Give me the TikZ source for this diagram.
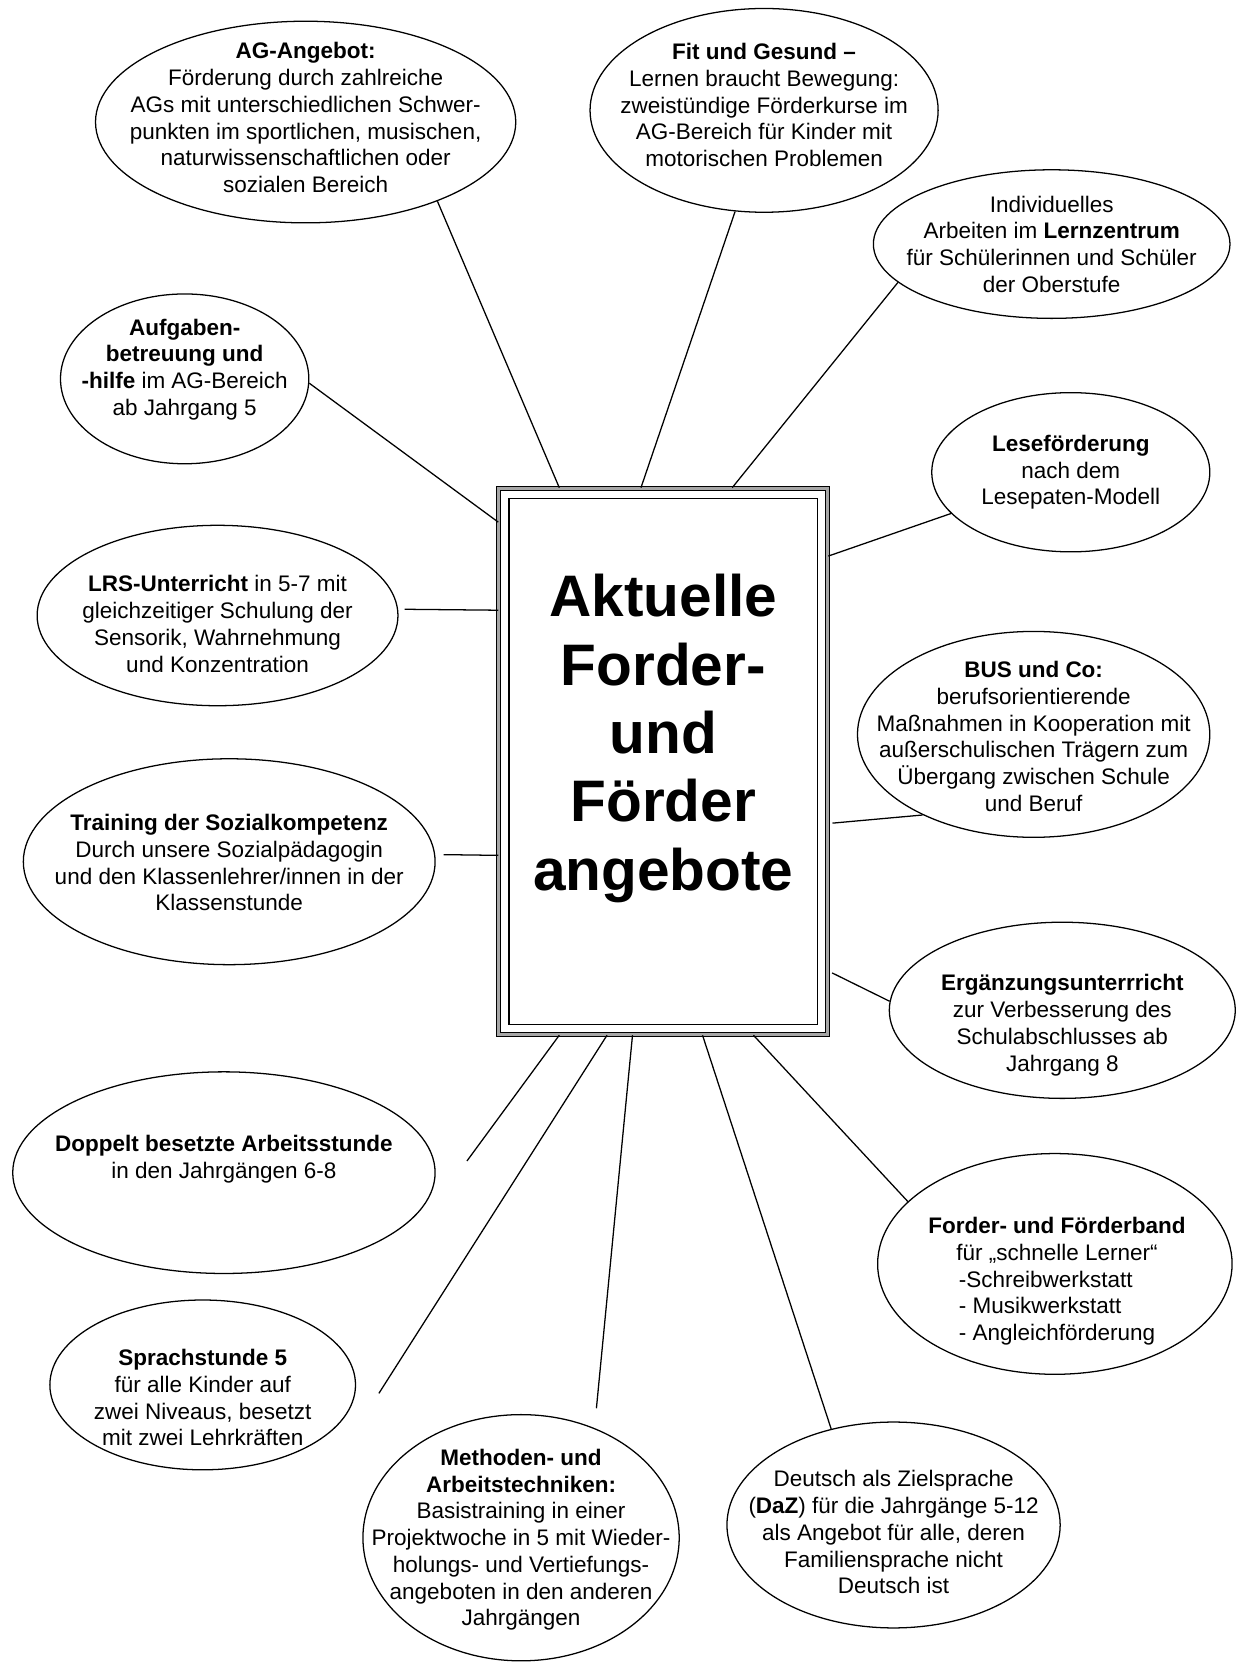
\documentclass[tikz,border=0pt]{standalone}
\usepackage{fontspec}
\setmainfont{Liberation Sans}
\usetikzlibrary{shapes.geometric}
\begin{document}
\begin{tikzpicture}[x=0.5pt, y=-0.5pt, line width=0.6pt,
    bubble/.style 2 args={draw, ellipse, minimum width=#1pt, minimum height=#2pt, inner sep=0pt},
    txt/.style={align=center, inner sep=0pt, font=\fontsize{10.6}{12.6}\selectfont},
    titlebox/.style={draw, double=gray!70, double distance=1.3pt, line width=0.5pt,
        minimum width=155pt, minimum height=257.5pt, inner sep=0pt}]
    \useasboundingbox (0,0) rectangle (1172,1568);

    % 1. Mittelfeld
    \node[titlebox] (box) at (625,717.5) {};
    \draw ([shift={(5pt,-5pt)}]box.north west) rectangle ([shift={(-5pt,5pt)}]box.south east);
    \node[align=center, font=\fontsize{27.6}{32.2}\selectfont\bfseries] (box-t) at (625,696)
        {Aktuelle\\Forder-\\und\\Förder\\angebote};

    % 2. Ellipsen oben
    \node[bubble={198}{95}] (ag) at (288,115) {};
    \node[txt] (ag-t) at (288,111) {\textbf{AG-Angebot:}\\Förderung durch zahlreiche\\AGs mit unterschiedlichen Schwer-\\punkten im sportlichen, musischen,\\naturwissenschaftlichen oder\\sozialen Bereich};
    \node[bubble={164}{96}] (fit) at (720,104) {};
    \node[txt] (fit-t) at (720,99) {\textbf{Fit und Gesund –}\\Lernen braucht Bewegung:\\zweistündige Förderkurse im\\AG-Bereich für Kinder mit\\motorischen Problemen};
    \node[bubble={168}{70}] (lern) at (991,230) {};
    \node[txt] (lern-t) at (991,230) {Individuelles\\Arbeiten im \textbf{Lernzentrum}\\für Schülerinnen und Schüler\\der Oberstufe};

    % 3. Ellipsen links
    \node[bubble={117}{80}] (auf) at (174,357) {};
    \node[txt] (auf-t) at (174,348) {\textbf{Aufgaben-}\\\textbf{betreuung und}\\\textbf{-hilfe} im AG-Bereich\\ab Jahrgang 5};
    \node[bubble={170}{85}] (lrs) at (205,580) {};
    \node[txt] (lrs-t) at (205,588) {\textbf{LRS-Unterricht} in 5-7 mit\\gleichzeitiger Schulung der\\Sensorik, Wahrnehmung\\und Konzentration};
    \node[bubble={194}{97}] (train) at (216,812) {};
    \node[txt] (train-t) at (216,813) {\textbf{Training der Sozialkompetenz}\\Durch unsere Sozialpädagogin\\und den Klassenlehrer/innen in der\\Klassenstunde};
    \node[bubble={199}{95}] (dop) at (211,1105) {};
    \node[txt] (dop-t) at (211,1092) {\textbf{Doppelt besetzte Arbeitsstunde}\\in den Jahrgängen 6-8};
    \node[bubble={144}{80}] (sprach) at (191,1305) {};
    \node[txt] (sprach-t) at (191,1317) {\textbf{Sprachstunde 5}\\für alle Kinder auf\\zwei Niveaus, besetzt\\mit zwei Lehrkräften};

    % 4. Ellipsen rechts
    \node[bubble={131}{75}] (lese) at (1009,445) {};
    \node[txt] (lese-t) at (1009,445) {\textbf{Leseförderung}\\nach dem\\Lesepaten-Modell};
    \node[bubble={166}{97}] (bus) at (974,692) {};
    \node[txt] (bus-t) at (974,694) {\textbf{BUS und Co:}\\berufsorientierende\\Maßnahmen in Kooperation mit\\außerschulischen Trägern zum\\Übergang zwischen Schule\\und Beruf};
    \node[bubble={163}{83}] (erg) at (1001,952) {};
    \node[txt] (erg-t) at (1001,966) {\textbf{Ergänzungsunterrricht}\\zur Verbesserung des\\Schulabschlusses ab\\Jahrgang 8};
    \node[bubble={167}{104}] (ford) at (994,1191) {};
    \node[txt] (ford-t) at (996,1209) {\textbf{Forder- und Förderband}\\für „schnelle Lerner“\\\begin{tabular}[t]{@{}l@{}}-Schreibwerkstatt\\- Musikwerkstatt\\- Angleichförderung\end{tabular}};

    % 5. Ellipsen unten
    \node[bubble={149}{116}] (meth) at (491,1449) {};
    \node[txt] (meth-t) at (491,1451) {\textbf{Methoden- und}\\\textbf{Arbeitstechniken:}\\Basistraining in einer\\Projektwoche in 5 mit Wieder-\\holungs- und Vertiefungs-\\angeboten in den anderen\\Jahrgängen};
    \node[bubble={157}{97}] (daz) at (842,1437) {};
    \node[txt] (daz-t) at (842,1444) {Deutsch als Zielsprache\\(\textbf{DaZ}) für die Jahrgänge 5-12\\als Angebot für alle, deren\\Familiensprache nicht\\Deutsch ist};

    % 6. Verbindungslinien
    \coordinate (dop-e) at (440,1094);
    \coordinate (sprach-e) at (357,1313);
    \coordinate (meth-e) at (562,1327);
    \draw (ag.-31) -- (527,0 |- box.north);
    \draw (fit.-106) -- (604,0 |- box.north);
    \draw (lern.-166) -- (690,0 |- box.north);
    \draw (auf.-2) -- (box.west |- 0,492);
    \draw (lese.-161) -- (box.east |- 0,524);
    \draw[shorten <=3pt] (lrs.2) -- (box.west |- 0,575);
    \draw[shorten >=2pt] (bus.-144) -- (box.east |- 0,776);
    \draw[shorten <=4pt] (train.2) -- (box.west |- 0,806);
    \draw[shorten >=2pt] (erg.177) -- (box.east |- 0,915);
    \draw (dop-e) -- (527,0 |- box.south);
    \draw (sprach-e) -- (572,0 |- box.south);
    \draw (meth-e) -- (596,0 |- box.south);
    \draw (daz.123) -- (662,0 |- box.south);
    \draw (ford.157) -- (710,0 |- box.south);
\end{tikzpicture}
\end{document}
